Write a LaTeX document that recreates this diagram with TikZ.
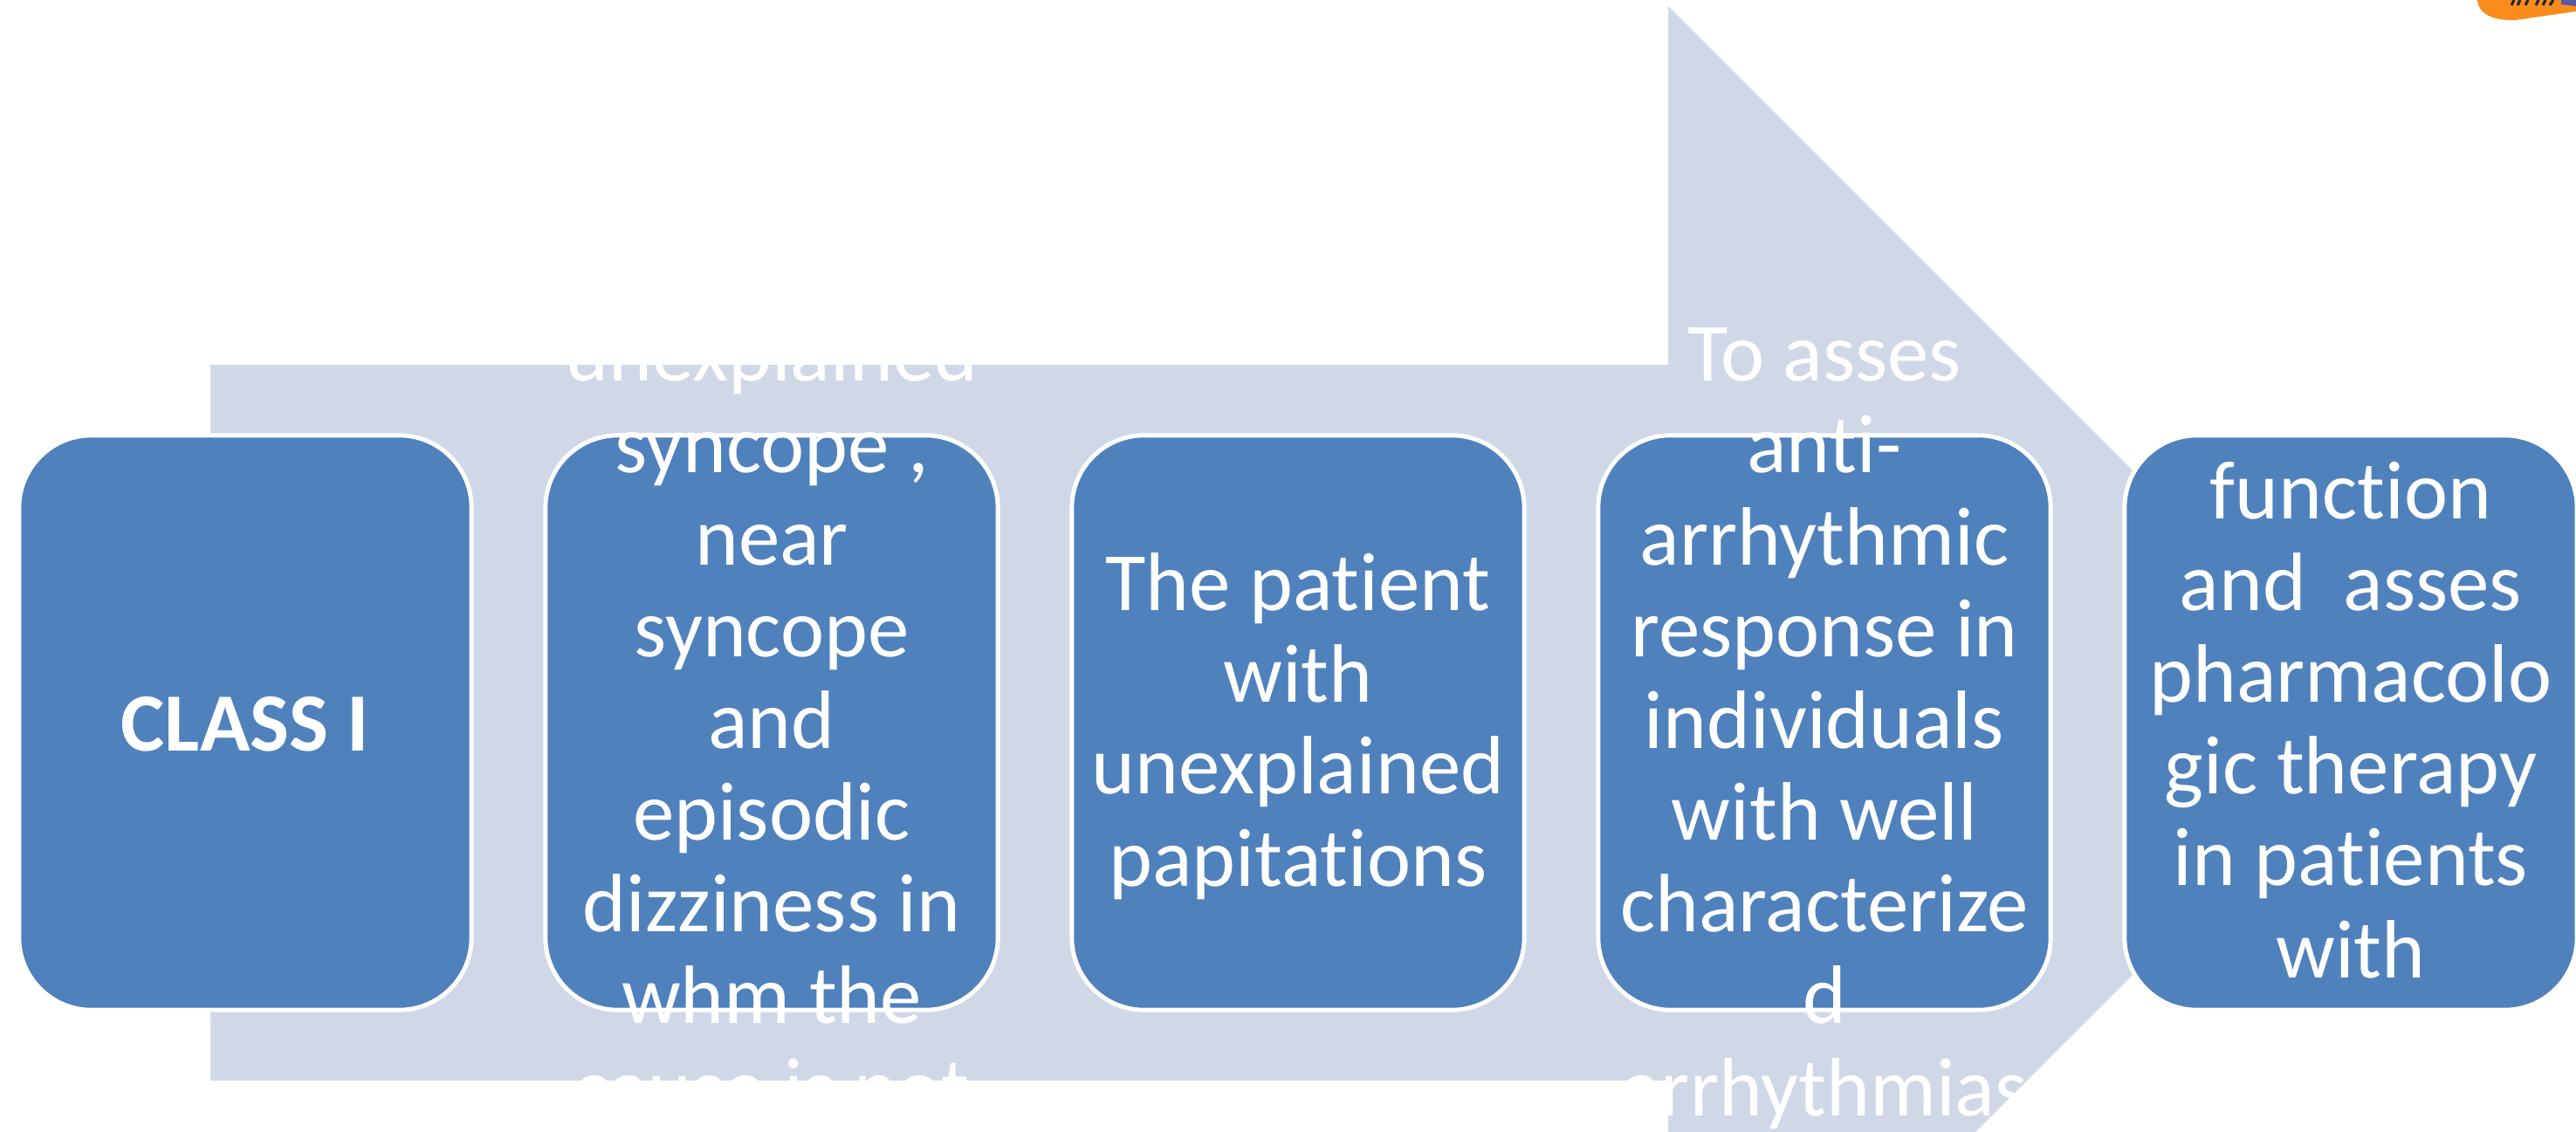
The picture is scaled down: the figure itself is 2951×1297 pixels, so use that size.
\documentclass[tikz,border=0pt]{standalone}
\usepackage{fontspec}
\setmainfont{Carlito}[Ligatures={NoCommon}]
\definecolor{arrowgray}{HTML}{D0D8E8}
\definecolor{boxblue}{HTML}{4F81BD}
\definecolor{logoorange}{RGB}{250,140,30}

\begin{document}
\begin{tikzpicture}[x=0.01cm,y=-0.01cm,
	stage/.style={draw=white, line width=1.4pt, fill=boxblue, rounded corners=0.83cm,
		minimum width=5.18cm, minimum height=6.58cm, inner sep=0pt},
	words/.style={text=white, align=center, anchor=base, inner sep=0pt,
		font=\fontsize{27}{29.9}\selectfont}]
	\useasboundingbox (0,0) rectangle (2951,1297);
	\clip (0,0) rectangle (2951,1297);

	% big arrow behind the steps
	\fill[arrowgray] (241,418) -- (1911,418) -- (1911,7) -- (2732,828) -- (1911,1649) -- (1911,1238) -- (241,1238) -- cycle;

	% logo corner, cut off
	\fill[logoorange] (2838,0) .. controls (2839,16) and (2856,24) .. (2882,23) -- (2951,13) -- (2951,0) -- cycle;
	\draw[line width=0.9pt, black!85] (2877,6) -- (2880,0) (2884,6) -- (2887,0) (2893,6) -- (2896,0);
	\draw[line width=0.9pt, black!85] (2905,6) -- (2908,0) (2913,6) -- (2916,0) (2921,6) -- (2925,0);
	\fill[gray!70!blue] (2934,0) -- (2951,0) -- (2951,7) -- (2934,5) -- cycle;

	\node[stage] (box1) at (281,828) {};
	\node[stage] (box2) at (884,828) {};
	\node[stage] (box3) at (1487,828) {};
	\node[stage] (box4) at (2090,828) {};
	\node[stage] (box5) at (2693,828) {};

	% base of a multi-line node = its last line
	\node[words, font=\fontsize{27}{29.9}\selectfont\bfseries] (txt1) at (281,860) {CLASS I};
	\node[words] (txt2) at (884,1278) {unexplained\\syncope ,\\near\\syncope\\and\\episodic\\dizziness in\\whm the\\cause is not};
	\node[words] (txt3) at (1487,1015) {The patient\\with\\unexplained\\papitations};
	\node[words] (txt4) at (2090,1278) {To asses\\anti-\\arrhythmic\\response in\\individuals\\with well\\characterize\\d\\arrhythmias};
	\node[words] (txt5) at (2693,1120) {function\\and\ \ asses\\pharmacolo\\gic therapy\\in patients\\with};

\end{tikzpicture}
\end{document}
